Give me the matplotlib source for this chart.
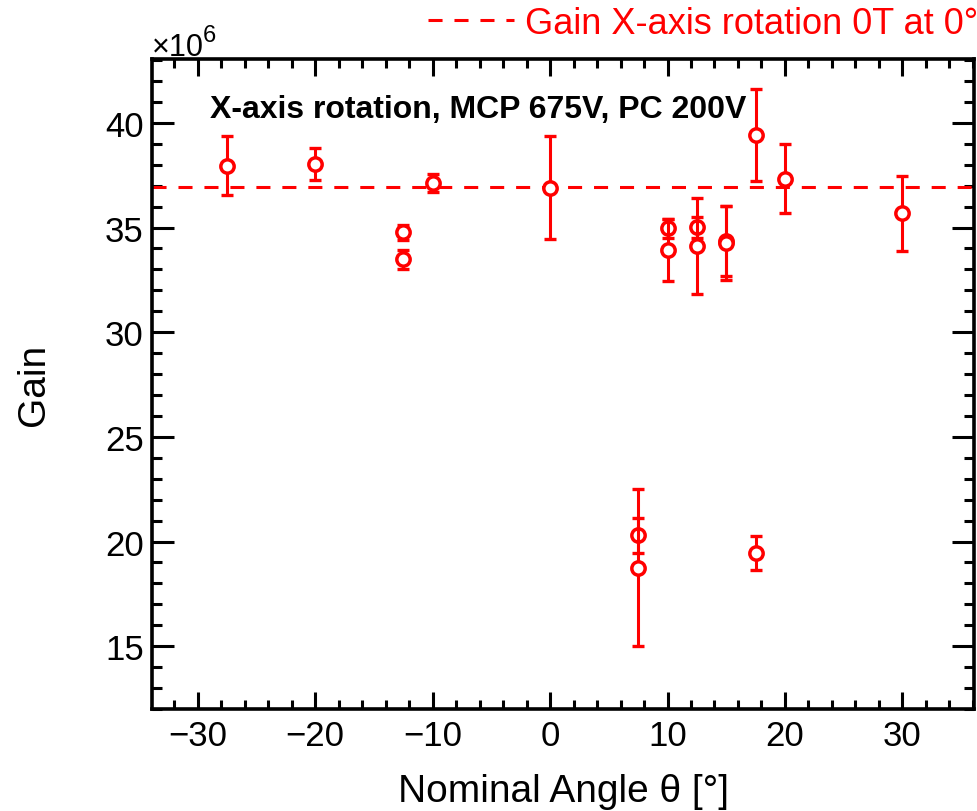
import matplotlib
matplotlib.use("Agg")
import matplotlib.pyplot as plt
from matplotlib.ticker import MultipleLocator
from matplotlib.lines import Line2D

plt.rcParams['font.family'] = ['Liberation Sans', 'DejaVu Sans']

# Series A (drawn first)
xa = [-27.5, -20, -12.5, -10, 0, 7.5, 10, 12.5, 15, 17.5, 20, 30]
ya = [37.96, 38.04, 34.77, 37.13, 36.9, 20.29, 34.96, 35.01, 34.35, 39.43, 37.34, 35.68]
ea = [1.40, 0.78, 0.35, 0.45, 2.45, 0.83, 0.47, 0.50, 1.68, 2.20, 1.63, 1.80]
# Series B (drawn second)
xb = [-12.5, 7.5, 10, 12.5, 15, 17.5]
yb = [33.48, 18.74, 33.92, 34.12, 34.27, 19.46]
eb = [0.45, 3.75, 1.48, 2.30, 1.76, 0.82]

ref_gain = 36.92
legend_label = "Gain X-axis rotation 0T at 0°"
annot = "X-axis rotation, MCP 675V, PC 200V"

fig = plt.figure(figsize=(9.77, 8.12), dpi=100)
ax = fig.add_axes([152/977, 1-710/812, (974-152)/977, (710-60)/812])

red = '#ff0000'
dash = (0, (4.6, 3.9))
ax.axhline(ref_gain, color=red, lw=2.2, linestyle=dash, zorder=2)

z = 3
for xs, ys, es in [(xa, ya, ea), (xb, yb, eb)]:
    ax.errorbar(xs, ys, yerr=es, fmt='none', ecolor=red, elinewidth=2.2,
                capsize=4.0, capthick=2.4, zorder=z)
    ax.plot(xs, ys, 'o', ms=9.6, mfc='white', mec=red, mew=2.5, linestyle='none', zorder=z+1)
    z += 2

ax.set_xlim(-33.9, 36.1)
ax.set_ylim(12.0, 43.05)
ax.xaxis.set_major_locator(MultipleLocator(10))
ax.xaxis.set_minor_locator(MultipleLocator(2))
ax.yaxis.set_major_locator(MultipleLocator(5))
ax.yaxis.set_minor_locator(MultipleLocator(1))
ax.tick_params(which='both', direction='in', top=True, right=True, width=2.2, labelsize=25, color='black')
ax.tick_params(axis='x', which='major', length=12, pad=7)
ax.tick_params(axis='x', which='minor', length=6.5)
ax.tick_params(axis='y', which='major', length=16, pad=6)
ax.tick_params(axis='y', which='minor', length=7.5)
for s in ax.spines.values():
    s.set_linewidth(2.6)

ax.set_xlabel("Nominal Angle θ [°]", fontsize=28, labelpad=15)
ax.set_ylabel("Gain", fontsize=28, labelpad=38)

ax.text((210-152)/822, (812-110-102)/650, annot, transform=ax.transAxes,
        fontsize=23, fontweight='bold', va='center', ha='left')

fig.text(152/977, 1-56/812, "×10", fontsize=22, ha='left', va='baseline')
fig.text(203/977, 1-42/812, "6", fontsize=17, ha='left', va='baseline')

h = Line2D([], [], color=red, lw=2.2, linestyle=dash)
leg = fig.legend([h], [legend_label], loc='upper right', bbox_to_anchor=(1.003, 1.0 - 5/812),
                 frameon=False, fontsize=26, handlelength=2.4, handletextpad=0.3,
                 borderaxespad=0.0, borderpad=0.05)
for t in leg.get_texts():
    t.set_color(red)

fig.savefig("out.png", dpi=100)
